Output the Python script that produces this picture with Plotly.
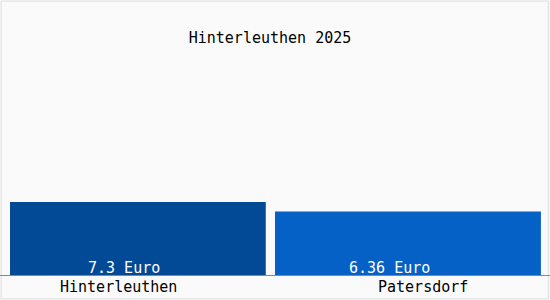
import plotly.graph_objects as go

title = "Hinterleuthen 2025"
categories = ["Hinterleuthen", "Patersdorf"]
values = [7.3, 6.36]
value_labels = ["7.3 Euro", "6.36 Euro"]
colors = ["#034a96", "#0561c6"]

FONT = "DejaVu Sans Mono"
W, H = 550, 300
plot_h = 275
ymax = values[0] * plot_h / 73.0

fig = go.Figure()
fig.add_trace(go.Bar(
    x=categories, y=values,
    marker=dict(color=colors, line=dict(width=0)),
    width=[0.93, 0.967],
    offset=[-0.4636, -0.5],
    hoverinfo="skip",
))

text_shift = [-13.5, -23.5]
label_shift = [-19.5, 10.5]
for i, c in enumerate(categories):
    fig.add_annotation(x=c, y=0, xref="x", yref="y", text=value_labels[i],
                       showarrow=False, xanchor="center", yanchor="middle",
                       xshift=text_shift[i], yshift=7,
                       font=dict(family=FONT, size=15, color="#ffffff"))
    fig.add_annotation(x=c, y=0, xref="x", yref="y", text=c,
                       showarrow=False, xanchor="center", yanchor="middle",
                       xshift=label_shift[i], yshift=-12,
                       font=dict(family=FONT, size=15, color="#000000"))

fig.add_shape(type="rect", xref="paper", yref="paper",
              x0=0.002, x1=0.997, y0=-25/plot_h + 0.004, y1=1 - 0.004,
              line=dict(color="#dddddd", width=1), fillcolor="rgba(0,0,0,0)",
              layer="below")

fig.update_layout(
    width=W, height=H,
    margin=dict(l=0, r=0, t=0, b=25, pad=0),
    paper_bgcolor="#fafafa", plot_bgcolor="#fafafa",
    showlegend=False,
    title=dict(text=title, x=270 / W, xanchor="center", y=1 - 38 / H,
               yanchor="middle", yref="container",
               font=dict(family=FONT, size=15, color="#000000")),
    xaxis=dict(range=[-0.5, 1.5], showticklabels=False, showgrid=False,
               zeroline=False, showline=True, linecolor="#888888", linewidth=1,
               ticks="", fixedrange=True),
    yaxis=dict(range=[0, ymax], showticklabels=False, showgrid=False,
               zeroline=False, showline=False, ticks="", fixedrange=True),
)

fig.write_html("out.html", config={"displayModeBar": False})
